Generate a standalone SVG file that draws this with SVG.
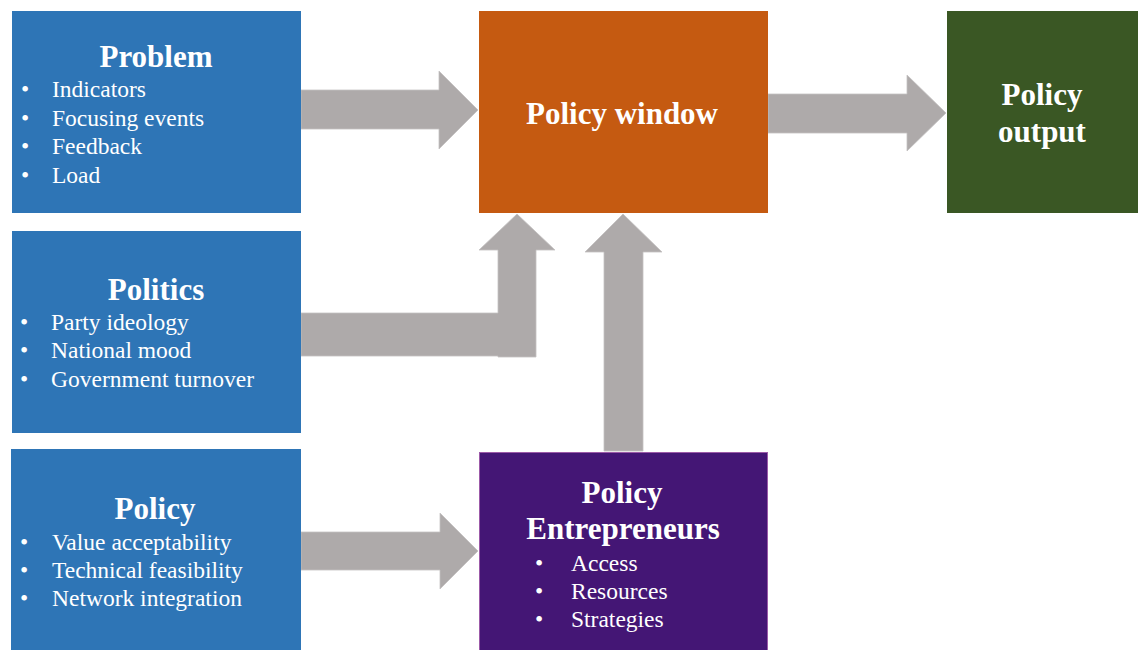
<svg xmlns="http://www.w3.org/2000/svg" width="1138" height="650" viewBox="0 0 1138 650">
<style>
.box{stroke:none}
.blue{fill:#2E75B6}
.arrow{fill:#AEAAAA;stroke:#C4C1C1;stroke-width:0.8}
.h{font-family:"Liberation Serif","Times New Roman",serif;font-weight:bold;font-size:31px;fill:#FFFFFF;text-anchor:middle}
.t{font-family:"Liberation Serif","Times New Roman",serif;font-size:23.5px;fill:#FFFFFF}
</style>
<rect width="1138" height="650" fill="#FFFFFF"/>
<g id="connectors">
<polygon class="arrow" points="301,90 439,90 439,71 478,110 439,149 439,129 301,129"/>
<polygon class="arrow" points="768,94 907,94 907,75 946,113 907,151 907,133 768,133"/>
<polygon class="arrow" points="301,532 440,532 440,513 478,551 440,589 440,570 301,570"/>
<polygon class="arrow" points="301,313 498,313 498,250 479,250 517,214 555,250 536,250 536,357 498,357 498,356 301,356"/>
<polygon class="arrow" points="604,451 604,252 585,252 623,214 662,252 643,252 643,451"/>
</g>
<g id="problem">
<rect class="box blue" x="12" y="11" width="289" height="202"/>
<text class="h" x="156" y="67">Problem</text>
<text class="t" x="21" y="97">•</text><text class="t" x="52" y="97">Indicators</text>
<text class="t" x="21" y="126">•</text><text class="t" x="52" y="126">Focusing events</text>
<text class="t" x="21" y="154">•</text><text class="t" x="52" y="154">Feedback</text>
<text class="t" x="21" y="183">•</text><text class="t" x="52" y="183">Load</text>
</g>
<g id="politics">
<rect class="box blue" x="12" y="231" width="289" height="202"/>
<text class="h" x="156" y="300">Politics</text>
<text class="t" x="20" y="330">•</text><text class="t" x="51" y="330">Party ideology</text>
<text class="t" x="20" y="358">•</text><text class="t" x="51" y="358">National mood</text>
<text class="t" x="20" y="387">•</text><text class="t" x="51" y="387">Government turnover</text>
</g>
<g id="policy">
<rect class="box blue" x="11" y="449" width="290" height="201"/>
<text class="h" x="155" y="519">Policy</text>
<text class="t" x="20" y="550">•</text><text class="t" x="52" y="550">Value acceptability</text>
<text class="t" x="20" y="578">•</text><text class="t" x="52" y="578">Technical feasibility</text>
<text class="t" x="20" y="606">•</text><text class="t" x="52" y="606">Network integration</text>
</g>
<g id="policy-window">
<rect class="box" x="479" y="11" width="289" height="202" fill="#C55A11"/>
<text class="h" x="622" y="124">Policy window</text>
</g>
<g id="policy-output">
<rect class="box" x="947" y="11" width="191" height="202" fill="#3A5724"/>
<text class="h" x="1042" y="105">Policy</text>
<text class="h" x="1042" y="142">output</text>
</g>
<g id="policy-entrepreneurs">
<rect x="479.5" y="452.5" width="288" height="198" fill="#441675" stroke="#9C5AA8" stroke-width="1"/>
<text class="h" x="622" y="503">Policy</text>
<text class="h" x="623" y="539">Entrepreneurs</text>
<text class="t" x="535" y="571">•</text><text class="t" x="571" y="571">Access</text>
<text class="t" x="535" y="599">•</text><text class="t" x="571" y="599">Resources</text>
<text class="t" x="535" y="627">•</text><text class="t" x="571" y="627">Strategies</text>
</g>
</svg>
